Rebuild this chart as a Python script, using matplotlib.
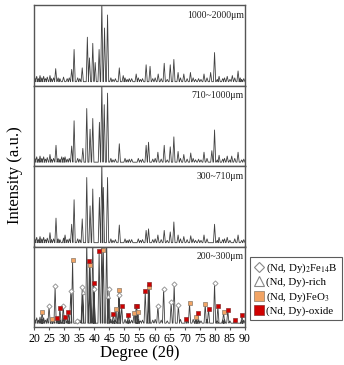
import matplotlib
matplotlib.use("Agg")
import matplotlib.pyplot as plt
from matplotlib.lines import Line2D
import numpy as np

plt.rcParams['font.family'] = ['Liberation Serif', 'DejaVu Serif']
plt.rcParams['mathtext.fontset'] = 'stix'

# panel labels, top to bottom
sizes = ['1000~2000μm', '710~1000μm', '300~710μm', '200~300μm']

# small background peaks (2θ, relative intensity)
noise_pos = [20.3, 20.9, 21.5, 22.0, 22.6, 23.2, 23.8, 24.4, 25.8, 26.5, 28.0, 28.6,
             29.8, 31.0, 31.7, 34.5, 35.2, 45.5, 46.2, 47.0, 50.2, 50.9, 51.6, 52.4,
             54.6, 55.3, 56.0, 59.4, 60.2, 62.2, 64.2, 68.6, 70.8, 72.8, 73.6, 74.6,
             75.4, 77.4, 80.8, 82.6, 83.2, 85.0, 86.6, 88.9, 89.6]
noise_int = [0.05, 0.07, 0.04, 0.08, 0.05, 0.07, 0.04, 0.06, 0.04, 0.05, 0.05, 0.04,
             0.06, 0.04, 0.05, 0.05, 0.04, 0.05, 0.03, 0.04, 0.05, 0.03, 0.04, 0.04,
             0.05, 0.03, 0.04, 0.04, 0.05, 0.04, 0.03, 0.05, 0.04, 0.05, 0.03, 0.04,
             0.03, 0.05, 0.03, 0.04, 0.05, 0.03, 0.05, 0.03, 0.04]

# main peaks of each sample
p1_pos = [25.3, 27.2, 32.5, 33.3, 36.0, 37.7, 38.4, 39.5, 40.3, 41.6, 42.5, 43.4, 44.4,
          48.3, 49.6, 53.9, 57.2, 58.5, 61.2, 63.2, 65.2, 66.4, 67.8, 69.7, 71.9, 76.4,
          78.6, 79.9, 81.4, 84.1, 85.8, 87.7, 88.4]
p1_int = [0.08, 0.17, 0.16, 0.42, 0.18, 0.58, 0.31, 0.50, 0.25, 0.42, 1.05, 0.70, 0.87,
          0.18, 0.08, 0.10, 0.22, 0.20, 0.10, 0.24, 0.22, 0.29, 0.12, 0.10, 0.12, 0.10,
          0.12, 0.38, 0.07, 0.07, 0.08, 0.14, 0.05]

p2_pos = [25.3, 27.3, 29.2, 30.3, 32.5, 33.3, 36.2, 37.5, 38.6, 39.5, 41.7, 42.5, 43.3,
          44.4, 48.3, 57.2, 58.0, 61.1, 63.2, 65.2, 66.4, 67.8, 69.7, 72.0, 76.4, 79.0,
          79.9, 81.4, 84.1, 85.6, 87.7]
p2_int = [0.10, 0.22, 0.07, 0.07, 0.21, 0.54, 0.18, 0.70, 0.43, 0.57, 0.52, 1.05, 0.75,
          0.90, 0.24, 0.22, 0.26, 0.13, 0.22, 0.20, 0.33, 0.14, 0.10, 0.12, 0.13, 0.15,
          0.42, 0.09, 0.08, 0.08, 0.13]

p3_pos = [25.3, 27.3, 30.3, 32.5, 33.3, 36.0, 37.5, 38.6, 39.5, 41.7, 42.5, 43.0, 44.4,
          48.3, 57.2, 58.0, 61.1, 63.2, 65.2, 66.4, 67.8, 69.7, 72.0, 76.4, 79.9, 81.4,
          84.1, 87.7]
p3_int = [0.13, 0.32, 0.10, 0.24, 0.56, 0.31, 0.85, 0.48, 0.70, 0.59, 1.05, 0.72, 0.85,
          0.23, 0.16, 0.18, 0.10, 0.16, 0.14, 0.27, 0.10, 0.08, 0.09, 0.10, 0.24, 0.07,
          0.07, 0.10]

# bottom sample: phase peaks (markers) plus strong clipped peaks
fe14b_pos = [25.0, 27.0, 29.7, 32.2, 34.2, 36.0, 39.9, 44.9, 48.2, 61.1, 63.0, 65.5,
             66.5, 67.9, 79.9]
fe14b_int = [0.23, 0.48, 0.23, 0.42, 0.03, 0.47, 0.45, 0.44, 0.37, 0.23, 0.45, 0.27,
             0.51, 0.24, 0.52]
rich_pos = [36.2, 44.6]
rich_int = [0.40, 0.36]
feo3_pos = [22.7, 25.9, 32.8, 38.6, 43.0, 47.2, 48.2, 53.2, 54.5, 58.2, 71.6, 73.7,
            76.8, 82.9]
feo3_int = [0.15, 0.05, 0.83, 0.76, 0.96, 0.18, 0.43, 0.13, 0.15, 0.47, 0.26, 0.08,
            0.25, 0.14]
oxide_pos = [27.7, 28.6, 30.3, 31.4, 38.4, 39.9, 41.6, 46.3, 49.1, 51.3, 53.9, 54.1,
             56.9, 58.0, 70.4, 74.4, 77.9, 81.0, 84.3, 86.8, 89.0]
oxide_int = [0.07, 0.20, 0.08, 0.14, 0.81, 0.53, 0.94, 0.12, 0.22, 0.11, 0.22, 0.22,
             0.42, 0.51, 0.06, 0.13, 0.19, 0.22, 0.17, 0.04, 0.10]
p4_extra_pos = [37.5, 39.5, 42.5, 44.1]
p4_extra_int = [1.10, 1.10, 1.10, 1.10]


def stick_pattern(pos, inten, w=0.38):
    order = np.argsort(pos)
    xs, ys = [20.0], [0.0]
    for i in order:
        xs += [pos[i] - w, pos[i], pos[i] + w]
        ys += [0.0, inten[i], 0.0]
    xs.append(90.0)
    ys.append(0.0)
    return xs, ys


fig = plt.figure(figsize=(3.44, 3.65), dpi=100)
left, width = 34 / 344, 211 / 344
bottom, top = 1 - 327 / 365, 1 - 5 / 365
h = (top - bottom) / 4

panels = [
    (p1_pos, p1_int),
    (p2_pos, p2_int),
    (p3_pos, p3_int),
    (fe14b_pos + rich_pos + feo3_pos + oxide_pos + p4_extra_pos,
     fe14b_int + rich_int + feo3_int + oxide_int + p4_extra_int),
]

axes = []
for k, (pp, ii) in enumerate(panels):
    ax = fig.add_axes([left, top - (k + 1) * h, width, h])
    xs, ys = stick_pattern(list(pp) + noise_pos, list(ii) + noise_int)
    ax.plot(xs, ys, color='#404040', lw=0.6)
    ax.set_xlim(20, 90)
    ax.set_ylim(-0.05, 1.0)
    ax.set_yticks([])
    for s in ax.spines.values():
        s.set_color('#555555')
        s.set_linewidth(1.0)
    ax.text(0.995, 0.87, sizes[k], transform=ax.transAxes, ha='right', va='center',
            fontsize=7, color='#222222')
    if k < 3:
        ax.set_xticks([])
    axes.append(ax)

ax = axes[-1]
ax.plot(fe14b_pos, fe14b_int, ls='none', marker='D', ms=2.6, mfc='white', mec='#999999', mew=0.7)
ax.plot(rich_pos, rich_int, ls='none', marker='^', ms=3, mfc='white', mec='#999999', mew=0.7)
ax.plot(feo3_pos, feo3_int, ls='none', marker='s', ms=3, mfc='#f2a464', mec='#8a7a6a', mew=0.5)
ax.plot(oxide_pos, oxide_int, ls='none', marker='s', ms=3, mfc='#d00000', mec='#8a3030', mew=0.5)
ax.set_xticks(np.arange(20, 91, 5))
ax.tick_params(axis='x', direction='out', length=2.5, labelsize=8.5, pad=2, color='#555555')
ax.set_xlabel('Degree (2θ)', fontsize=12, labelpad=0)

fig.text(0.045, 0.52, 'Intensity (a.u.)', rotation=90, ha='center', va='center',
         fontsize=12)

handles = [
    Line2D([], [], ls='none', marker='D', ms=5.5, mfc='white', mec='#888888', mew=0.8),
    Line2D([], [], ls='none', marker='^', ms=6.5, mfc='white', mec='#888888', mew=0.8),
    Line2D([], [], ls='none', marker='s', ms=7, mfc='#f2a464', mec='#8a7a6a', mew=0.5),
    Line2D([], [], ls='none', marker='s', ms=7, mfc='#d00000', mec='#8a3030', mew=0.5),
]
labels = ['(Nd, Dy)$_2$Fe$_{14}$B', '(Nd, Dy)-rich', '(Nd, Dy)FeO$_3$', '(Nd, Dy)-oxide']
leg = fig.legend(handles, labels, loc='upper left', bbox_to_anchor=(250 / 344, 1 - 257 / 365),
                 fontsize=7.8, frameon=True, fancybox=False, edgecolor='#333333',
                 handlelength=0.8, handletextpad=0.3, borderpad=0.4, labelspacing=0.25,
                 borderaxespad=0)
leg.get_frame().set_linewidth(0.8)

fig.savefig('out.png', dpi=100)
